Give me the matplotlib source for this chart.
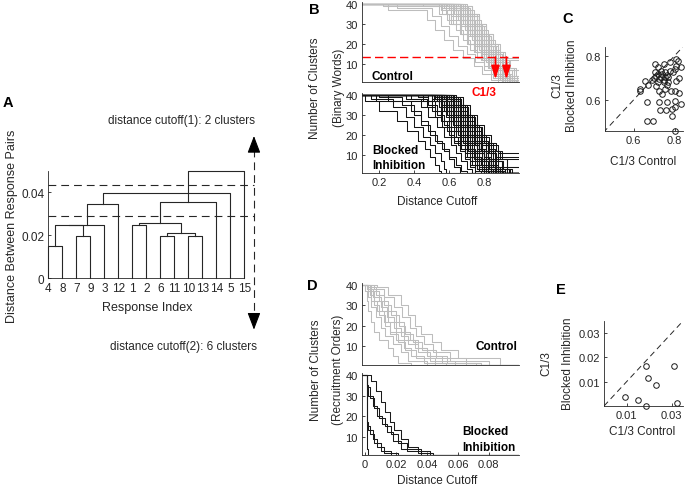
import matplotlib
matplotlib.use('Agg')
import matplotlib.pyplot as plt
import numpy as np

plt.rcParams['font.family'] = ['Liberation Sans', 'DejaVu Sans']
plt.rcParams['text.color'] = '0.15'
plt.rcParams['axes.edgecolor'] = '0.15'
plt.rcParams['xtick.color'] = '0.15'
plt.rcParams['ytick.color'] = '0.15'
plt.rcParams['xtick.direction'] = 'in'
plt.rcParams['ytick.direction'] = 'in'
plt.rcParams['xtick.major.size'] = 2.5
plt.rcParams['ytick.major.size'] = 2.5
plt.rcParams['xtick.major.width'] = 0.6
plt.rcParams['ytick.major.width'] = 0.6
plt.rcParams['xtick.major.pad'] = 3
plt.rcParams['ytick.major.pad'] = 3
plt.rcParams['axes.linewidth'] = 0.6

# ---------------- data ----------------
# A: dendrogram (leaf order on x axis, merges: left, right, height)
leaf_labels = [4, 8, 7, 9, 3, 12, 1, 2, 6, 11, 10, 13, 14, 5, 15]
merges = [
    (4, 8, 0.0149),         # m0
    (7, 9, 0.0198),         # m1
    ('m0', 'm1', 0.0247),   # m2
    ('m2', 3, 0.0247),      # m3
    ('m3', 12, 0.0344),     # m4
    ('m4', 5, 0.0395),      # m5
    (1, 2, 0.0247),         # m6
    (6, 11, 0.0198),        # m7
    (10, 13, 0.0198),       # m8
    ('m7', 'm8', 0.0209),   # m9
    ('m6', 'm9', 0.0257),   # m10
    ('m10', 14, 0.0357),    # m11
    ('m11', 15, 0.0498),    # m12
]
cutoff1 = 0.0434
cutoff2 = 0.0291

# B/D: number of clusters vs distance cutoff. Each curve is stored as the
# cutoffs where it falls from one cluster count to the next; curve i uses
# the count levels LEVEL_SETS[i % 3] (None = stays at that count).
LEVEL_SETS = [
    [40, 37, 32, 27, 22, 17, 13, 9, 5, 2, 1],
    [40, 38, 34, 29, 24, 19, 15, 11, 7, 3, 1],
    [40, 39, 35, 30, 25, 20, 16, 12, 8, 4, 1],
]

words_control = [
    [0.25, 0.47, 0.52, 0.57, 0.62, 0.68, 0.74, 0.79, 0.84, 0.88],
    [0.30, 0.50, 0.55, 0.60, 0.65, 0.70, 0.75, 0.80, 0.85, 0.90],
    [0.22, 0.56, 0.61, 0.66, 0.70, 0.74, 0.78, 0.82, 0.86, 0.91],
    [0.55, 0.59, 0.64, 0.68, 0.72, 0.76, 0.80, 0.84, 0.88, 0.92],
    [0.57, 0.61, 0.66, 0.70, 0.74, 0.78, 0.81, 0.85, 0.89, 0.93],
    [0.59, 0.63, 0.67, 0.71, 0.75, 0.79, 0.82, 0.86, 0.90, 0.95],
    [0.60, 0.64, 0.69, 0.73, 0.77, 0.80, 0.84, 0.87, 0.91, 0.96],
    [0.61, 0.66, 0.70, 0.74, 0.78, 0.82, 0.85, 0.88, 0.92, 0.97],
    [0.62, 0.67, 0.71, 0.75, 0.79, 0.83, 0.86, 0.89, 0.93, None],
    [0.63, 0.68, 0.72, 0.76, 0.80, 0.84, 0.87, 0.91, 0.95, None],
    [0.64, 0.69, 0.73, 0.77, 0.81, 0.85, 0.88, 0.92, None, None],
    [0.65, 0.70, 0.74, 0.78, 0.82, 0.86, 0.89, None, None, None],
    [0.66, 0.71, 0.75, 0.79, 0.83, 0.87, None, None, None, None],
    [0.67, 0.72, 0.76, 0.80, 0.84, 0.88, 0.91, 0.94, 0.97, None],
    [0.68, 0.73, 0.77, 0.81, 0.85, 0.89, 0.92, 0.95, 0.98, None],
    [0.58, 0.65, 0.70, 0.75, 0.79, 0.82, 0.85, 0.88, 0.91, 0.94],
    [0.60, 0.66, 0.72, 0.76, 0.79, 0.83, 0.86, 0.89, 0.92, 0.95],
    [0.62, 0.68, 0.73, 0.77, 0.80, 0.83, 0.85, 0.88, 0.90, 0.93],
    [0.63, 0.67, 0.71, 0.74, 0.77, 0.80, 0.83, 0.86, 0.89, 0.92],
    [0.64, 0.70, 0.74, 0.78, 0.81, 0.84, 0.87, 0.90, 0.93, 0.96],
    [0.65, 0.69, 0.73, 0.76, 0.79, 0.82, 0.84, 0.87, 0.90, 0.94],
    [0.66, 0.70, 0.75, 0.79, 0.82, 0.85, 0.88, 0.90, 0.93, 0.97],
    [0.67, 0.71, 0.76, 0.80, 0.84, 0.87, 0.90, 0.93, 0.96, None],
    [0.69, 0.73, 0.77, 0.81, 0.85, 0.88, 0.91, 0.94, 0.97, 0.99],
    [0.70, 0.74, 0.78, 0.82, 0.86, 0.89, 0.92, 0.94, 0.96, None],
    [0.56, 0.62, 0.67, 0.72, 0.76, 0.80, 0.83, 0.86, None, None],
    [0.45, 0.54, 0.60, 0.66, 0.71, 0.75, 0.79, 0.83, 0.87, 0.91],
    [0.61, 0.65, 0.70, 0.75, 0.80, 0.84, 0.87, 0.90, 0.92, 0.95],
    [0.64, 0.67, 0.71, 0.74, 0.78, 0.81, 0.84, 0.87, 0.89, 0.92],
    [0.54, 0.58, 0.62, 0.67, 0.71, 0.76, 0.80, 0.84, 0.88, 0.93],
    [0.63, 0.69, 0.74, 0.78, 0.82, 0.85, 0.89, 0.92, 0.95, 0.98],
    [0.66, 0.72, 0.77, 0.81, 0.84, 0.86, 0.89, 0.91, 0.94, 0.96],
    [0.59, 0.64, 0.68, 0.72, 0.76, 0.79, 0.82, 0.85, 0.87, 0.90],
    [0.68, 0.72, 0.75, 0.78, 0.81, 0.84, 0.86, 0.89, 0.91, 0.94],
    [0.62, 0.66, 0.69, 0.73, 0.77, 0.81, 0.84, 0.86, 0.88, 0.91],
    [0.65, 0.71, 0.76, 0.79, 0.83, 0.86, 0.88, 0.91, 0.93, 0.96],
]

words_blocked = [
    [0.12, 0.20, 0.30, 0.36, 0.42, 0.46, 0.49, 0.52, 0.54, 0.55],
    [0.15, 0.28, 0.35, 0.40, 0.45, 0.49, 0.52, 0.55, 0.57, 0.58],
    [0.20, 0.33, 0.40, 0.44, 0.49, 0.53, 0.57, 0.60, 0.63, 0.66],
    [0.25, 0.38, 0.44, 0.48, 0.52, 0.56, 0.60, 0.64, 0.67, 0.70],
    [0.35, 0.44, 0.48, 0.53, 0.57, 0.61, 0.64, 0.67, 0.70, 0.73],
    [0.42, 0.48, 0.53, 0.57, 0.60, 0.63, 0.66, 0.69, 0.72, 0.75],
    [0.48, 0.52, 0.56, 0.60, 0.63, 0.66, 0.69, 0.72, 0.75, 0.78],
    [0.50, 0.54, 0.58, 0.61, 0.64, 0.67, 0.70, 0.73, 0.76, 0.80],
    [0.52, 0.56, 0.59, 0.62, 0.65, 0.68, 0.71, 0.74, 0.77, 0.81],
    [0.53, 0.57, 0.60, 0.63, 0.66, 0.69, 0.72, 0.75, 0.79, 0.83],
    [0.54, 0.58, 0.61, 0.64, 0.67, 0.70, 0.73, 0.76, 0.80, 0.84],
    [0.55, 0.59, 0.62, 0.65, 0.68, 0.71, 0.74, 0.77, 0.81, 0.86],
    [0.56, 0.60, 0.63, 0.66, 0.69, 0.72, 0.75, 0.78, 0.82, 0.87],
    [0.57, 0.61, 0.64, 0.67, 0.70, 0.73, 0.76, 0.80, 0.84, 0.89],
    [0.58, 0.62, 0.65, 0.68, 0.71, 0.74, 0.78, 0.82, 0.86, 0.90],
    [0.59, 0.63, 0.66, 0.69, 0.72, 0.76, 0.80, 0.84, 0.88, 0.92],
    [0.60, 0.64, 0.67, 0.70, 0.74, 0.78, 0.82, 0.86, 0.90, 0.95],
    [0.61, 0.65, 0.68, 0.72, 0.76, 0.80, 0.84, 0.88, None, None],
    [0.62, 0.66, 0.70, 0.74, 0.78, 0.82, 0.86, None, None, None],
    [0.63, 0.67, 0.71, 0.75, 0.79, 0.83, 0.88, None, None, None],
    [0.64, 0.68, 0.72, 0.76, 0.80, 0.84, 0.87, 0.90, 0.93, None],
    [0.55, 0.60, 0.64, 0.67, 0.70, 0.72, 0.75, 0.78, 0.81, 0.85],
    [0.57, 0.62, 0.66, 0.69, 0.72, 0.75, 0.77, 0.80, 0.83, 0.86],
    [0.59, 0.64, 0.68, 0.71, 0.74, 0.77, 0.79, 0.82, 0.85, 0.88],
    [0.61, 0.66, 0.69, 0.72, 0.75, 0.78, 0.81, 0.83, 0.86, 0.90],
    [0.52, 0.58, 0.63, 0.67, 0.71, 0.74, 0.77, 0.79, 0.82, 0.85],
    [0.54, 0.59, 0.63, 0.68, 0.72, 0.75, 0.78, 0.81, 0.84, 0.87],
    [0.56, 0.61, 0.65, 0.70, 0.73, 0.77, 0.80, 0.83, 0.87, 0.91],
    [0.58, 0.63, 0.67, 0.71, 0.75, 0.79, 0.83, 0.87, 0.91, 0.96],
    [0.60, 0.65, 0.70, 0.74, 0.77, 0.81, 0.85, 0.89, 0.93, None],
    [0.50, 0.55, 0.60, 0.64, 0.68, 0.71, 0.74, 0.77, 0.79, 0.82],
    [0.62, 0.67, 0.71, 0.75, 0.78, 0.81, 0.84, 0.87, 0.90, 0.94],
    [0.53, 0.58, 0.62, 0.66, 0.70, 0.73, 0.76, 0.79, 0.83, 0.88],
    [0.45, 0.50, 0.55, 0.59, 0.63, 0.67, 0.70, 0.73, 0.77, 0.80],
    [0.38, 0.47, 0.52, 0.56, 0.61, 0.65, 0.69, 0.72, 0.76, 0.80],
    [0.58, 0.62, 0.66, 0.70, 0.73, 0.76, 0.79, 0.82, 0.85, 0.89],
    [0.18, 0.57, 0.61, 0.65, 0.68, 0.71, 0.74, 0.77, 0.80, 0.84],
    [0.56, 0.61, 0.64, 0.67, 0.71, 0.74, 0.77, 0.80, 0.84, 0.87],
    [0.60, 0.63, 0.66, 0.69, 0.72, 0.75, 0.78, 0.81, 0.84, 0.88],
    [0.51, 0.56, 0.61, 0.65, 0.69, 0.72, 0.75, 0.79, 0.82, 0.86],
    [0.57, 0.63, 0.68, 0.72, 0.75, 0.78, 0.81, 0.84, 0.87, 0.92],
    [0.63, 0.66, 0.69, 0.73, 0.76, 0.79, 0.82, 0.85, 0.88, 0.93],
]

orders_control = [
    [0.000, 0.001, 0.002, 0.004, 0.006, 0.009, 0.015, 0.018, 0.021, 0.030],
    [0.001, 0.002, 0.004, 0.007, 0.010, 0.013, 0.018, 0.023, 0.028, 0.040],
    [0.001, 0.003, 0.006, 0.009, 0.013, 0.016, 0.021, 0.026, 0.033, 0.045],
    [0.002, 0.004, 0.008, 0.012, 0.016, 0.020, 0.025, 0.030, 0.038, 0.052],
    [0.002, 0.005, 0.010, 0.014, 0.019, 0.023, 0.028, 0.034, 0.042, 0.058],
    [0.003, 0.007, 0.012, 0.017, 0.022, 0.026, 0.031, 0.037, 0.046, 0.065],
    [0.004, 0.009, 0.015, 0.020, 0.025, 0.029, 0.034, 0.040, 0.050, 0.072],
    [0.006, 0.012, 0.019, 0.024, 0.029, 0.033, 0.038, 0.044, 0.055, 0.080],
    [0.008, 0.015, 0.023, 0.028, 0.032, 0.036, 0.043, 0.049, 0.060, 0.087],
    [0.002, 0.006, 0.011, 0.015, 0.020, 0.025, 0.032, 0.040, 0.053, 0.075],
]

orders_blocked = [
    [0.004, 0.007, 0.010, 0.013, 0.016, 0.019, 0.023, 0.028, 0.034, 0.044],
    [0.001, 0.001, 0.003, 0.006, 0.009, 0.013, 0.017, 0.021, 0.027, 0.042],
    [0.001, 0.001, 0.002, 0.005, 0.008, 0.011, 0.014, 0.018, 0.023, 0.036],
    [0.001, 0.001, 0.001, 0.001, 0.001, 0.002, 0.005, 0.008, 0.012, 0.021],
    [0.001, 0.001, 0.001, 0.001, 0.001, 0.001, 0.003, 0.006, 0.010, 0.017],
    [0.001, 0.001, 0.001, 0.001, 0.001, 0.001, 0.001, 0.001, 0.001, 0.002],
]

c13_level = 40 / 3
c13_examples = [0.865, 0.928]

# C: C1/3 control vs blocked inhibition (binary words)
words_c13 = [
    (0.630, 0.638), (0.630, 0.649), (0.653, 0.686), (0.671, 0.667), (0.664, 0.591),
    (0.664, 0.505), (0.694, 0.505), (0.706, 0.762), (0.716, 0.717), (0.709, 0.709),
    (0.704, 0.724), (0.724, 0.694), (0.716, 0.679), (0.709, 0.664), (0.732, 0.732),
    (0.739, 0.717), (0.747, 0.762), (0.754, 0.724), (0.754, 0.701), (0.747, 0.679),
    (0.724, 0.641), (0.739, 0.626), (0.724, 0.588), (0.727, 0.554), (0.754, 0.649),
    (0.762, 0.667), (0.769, 0.701), (0.769, 0.679), (0.777, 0.732), (0.762, 0.588),
    (0.759, 0.554), (0.784, 0.558), (0.799, 0.566), (0.787, 0.528), (0.799, 0.596),
    (0.799, 0.641), (0.807, 0.686), (0.799, 0.739), (0.807, 0.754), (0.814, 0.777),
    (0.807, 0.784), (0.777, 0.769), (0.802, 0.460), (0.792, 0.724), (0.690, 0.690),
    (0.700, 0.700), (0.720, 0.750), (0.735, 0.705), (0.745, 0.690), (0.760, 0.710),
    (0.780, 0.640), (0.820, 0.700), (0.830, 0.750), (0.820, 0.630), (0.830, 0.580),
]

# E: C1/3 control vs blocked inhibition (recruitment orders)
orders_c13 = [
    (0.0093, 0.0036), (0.0151, 0.0025), (0.0185, 0.0001), (0.0185, 0.0164),
    (0.0196, 0.0114), (0.0231, 0.0088), (0.0309, 0.0164), (0.0323, 0.0012),
]

# ---------------- figure ----------------
W, H = 685, 489
fig = plt.figure(figsize=(W / 100, H / 100), dpi=100)


def add_ax(l, t, r, b):
    return fig.add_axes([l / W, 1 - b / H, (r - l) / W, (b - t) / H])


def ftext(x, y, s, **kw):
    return fig.text(x / W, 1 - y / H, s, **kw)


def box_off(ax):
    ax.spines['top'].set_visible(False)
    ax.spines['right'].set_visible(False)


def draw_curves(ax, curves, xmin, xmax, color):
    for k, drops in enumerate(curves):
        levels = LEVEL_SETS[k % 3]
        n = len(drops)
        for i, v in enumerate(drops):
            if v is None:
                n = i
                break
        xs = [xmin] + list(drops[:n]) + [xmax]
        ys = levels[:n + 1] + [levels[n]]
        ax.step(xs, ys, where='post', color=color, lw=0.75)


# ---- A: dendrogram
axA = add_ax(48.3, 171.8, 244.3, 279.3)
pos = {lab: i + 1 for i, lab in enumerate(leaf_labels)}
hgt = {lab: 0.0 for lab in leaf_labels}
for k, (left, right, h) in enumerate(merges):
    xl, xr = pos[left], pos[right]
    axA.plot([xl, xl, xr, xr], [hgt[left], h, h, hgt[right]],
             color='0.15', lw=0.8, clip_on=False)
    pos['m%d' % k] = (xl + xr) / 2
    hgt['m%d' % k] = h
axA.set_xlim(1, 15)
axA.set_ylim(0, 0.05)
axA.set_xticks(range(1, 16))
axA.set_xticklabels([str(v) for v in leaf_labels], fontsize=8.5)
axA.tick_params(axis='x', length=0)
axA.set_yticks([0, 0.02, 0.04])
axA.set_yticklabels(['0', '0.02', '0.04'], fontsize=8.5)
box_off(axA)
xv = 15.69
for c in (cutoff1, cutoff2):
    axA.plot([1, xv], [c, c], color='0.15', lw=0.8, ls=(0, (7, 4.5)), clip_on=False)
axA.plot([xv, xv], [-0.021, 0.063], color='0.15', lw=0.8, ls=(0, (7, 4.5)), clip_on=False)
for tip, base in ((0.0662, 0.060), (-0.0239, -0.018)):
    axA.annotate('', xy=(xv, tip), xytext=(xv, base), annotation_clip=False,
                 arrowprops=dict(arrowstyle='-|>,head_length=1.05,head_width=0.4',
                                 color='k', lw=0.8, shrinkA=0, shrinkB=0))
ftext(181, 121, 'distance cutoff(1): 2 clusters', fontsize=8.5, ha='center', va='center')
ftext(184, 347, 'distance cutoff(2): 6 clusters', fontsize=8.5, ha='center', va='center')
ftext(11.7, 226, 'Distance Between Response Pairs', fontsize=9, rotation=90,
      ha='center', va='center')
ftext(147, 308, 'Response Index', fontsize=9, ha='center', va='center')

# ---- B: binary words
axB1 = add_ax(362, 2.7, 519, 82.7)
axB2 = add_ax(362, 94, 519, 174)
for ax, curves, col in ((axB1, words_control, '0.74'), (axB2, words_blocked, '0.08')):
    draw_curves(ax, curves, 0.1, 1.0, col)
    ax.set_xlim(0.1, 1.0)
    ax.set_ylim(1, 41)
    ax.set_yticks([10, 20, 30, 40])
    ax.tick_params(labelsize=8)
    box_off(ax)
axB1.set_xticks([])
axB2.set_xticks([0.2, 0.4, 0.6, 0.8])
axB1.axhline(c13_level, color='red', lw=1.0, ls=(0, (6, 3)))
for xc in c13_examples:
    axB1.annotate('', xy=(xc, 2.2), xytext=(xc, c13_level), annotation_clip=False,
                  arrowprops=dict(arrowstyle='-|>,head_length=0.8,head_width=0.25',
                                  color='red', lw=1.2, shrinkA=0, shrinkB=0))
ftext(484, 93, 'C1/3', fontsize=8.5, fontweight='bold', color='red', ha='center', va='center')
ftext(371, 77, 'Control', fontsize=8.5, fontweight='bold', color='k', ha='left', va='center')
ftext(372, 151, 'Blocked', fontsize=8.5, fontweight='bold', color='k', ha='left', va='center')
ftext(372, 166, 'Inhibition', fontsize=8.5, fontweight='bold', color='k', ha='left', va='center')
ftext(315, 88, 'Number of Clusters', fontsize=8.5, rotation=90, ha='center', va='center')
ftext(339, 88, '(Binary Words)', fontsize=8.5, rotation=90, ha='center', va='center')
ftext(437, 202, 'Distance Cutoff', fontsize=8.5, ha='center', va='center')

# ---- C
axC = add_ax(605, 47.7, 683, 131.7)
cx = [p[0] for p in words_c13]
cy = [p[1] for p in words_c13]
axC.plot([0, 1], [0, 1], color='0.15', lw=0.7, ls=(0, (6, 4)))
axC.plot(cx, cy, 'o', mfc='none', mec='0.1', ms=4, mew=0.7, clip_on=False)
axC.set_xlim(0.46, 0.84)
axC.set_ylim(0.46, 0.84)
axC.set_xticks([0.6, 0.8])
axC.set_yticks([0.6, 0.8])
axC.tick_params(labelsize=8)
box_off(axC)
ftext(557, 86, 'C1/3', fontsize=8.5, rotation=90, ha='center', va='center')
ftext(572, 86, 'Blocked Inhibition', fontsize=8.5, rotation=90, ha='center', va='center')
ftext(643, 162, 'C1/3 Control', fontsize=8.5, ha='center', va='center')

# ---- D: recruitment orders
axD1 = add_ax(362, 283.6, 519, 365.6)
axD2 = add_ax(362, 374, 519, 456)
for ax, curves, col in ((axD1, orders_control, '0.74'), (axD2, orders_blocked, '0.1')):
    draw_curves(ax, curves, -0.002, 0.0995, col)
    ax.set_xlim(-0.002, 0.0995)
    ax.set_ylim(1, 41)
    ax.set_yticks([10, 20, 30, 40])
    ax.tick_params(labelsize=8)
    box_off(ax)
axD1.set_xticks([])
axD2.set_xticks([0, 0.02, 0.04, 0.06, 0.08])
axD2.set_xticklabels(['0', '0.02', '0.04', '0.06', '0.08'])
ftext(517, 347, 'Control', fontsize=8.5, fontweight='bold', color='k', ha='right', va='center')
ftext(462, 432, 'Blocked', fontsize=8.5, fontweight='bold', color='k', ha='left', va='center')
ftext(462, 448, 'Inhibition', fontsize=8.5, fontweight='bold', color='k', ha='left', va='center')
ftext(316, 370, 'Number of Clusters', fontsize=8.5, rotation=90, ha='center', va='center')
ftext(338, 370, '(Recruitment Orders)', fontsize=8.5, rotation=90, ha='center', va='center')
ftext(437, 481, 'Distance Cutoff', fontsize=8.5, ha='center', va='center')

# ---- E
axE = add_ax(604, 322, 683, 407)
ex = [p[0] for p in orders_c13]
ey = [p[1] for p in orders_c13]
axE.plot([0, 1], [0, 1], color='0.15', lw=0.7, ls=(0, (6, 4)))
axE.plot(ex, ey, 'o', mfc='none', mec='0.1', ms=4, mew=0.7, clip_on=False)
axE.set_xlim(0, 0.035)
axE.set_ylim(0, 0.035)
axE.set_xticks([0.01, 0.03])
axE.set_yticks([0.01, 0.02, 0.03])
axE.tick_params(labelsize=8)
box_off(axE)
ftext(546, 364, 'C1/3', fontsize=8.5, rotation=90, ha='center', va='center')
ftext(568, 364, 'Blocked Inhibition', fontsize=8.5, rotation=90, ha='center', va='center')
ftext(642, 432, 'C1/3 Control', fontsize=8.5, ha='center', va='center')

# panel letters
for lab, x, y in (('A', 8, 103), ('B', 314, 10), ('C', 568, 19), ('D', 312, 286), ('E', 561, 290)):
    ftext(x, y, lab, fontsize=10.5, fontweight='bold', color='k', ha='center', va='center')

fig.savefig('out.png', dpi=100)
